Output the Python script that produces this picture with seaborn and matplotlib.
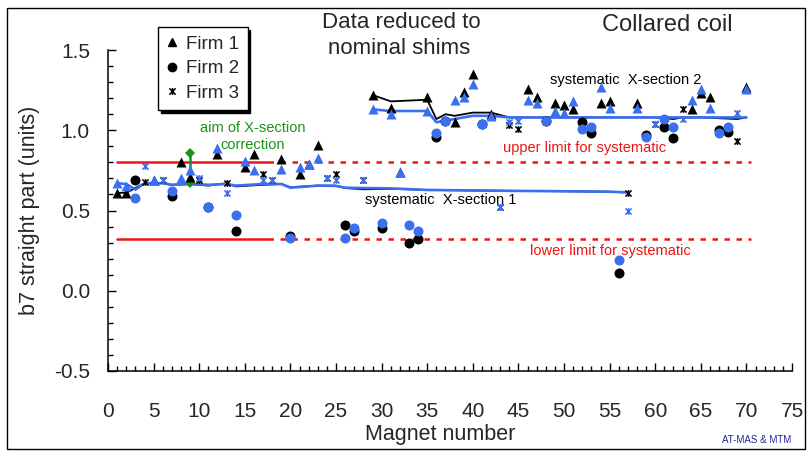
import matplotlib
matplotlib.use("Agg")
import matplotlib.pyplot as plt
from matplotlib.path import Path
from matplotlib.lines import Line2D
from matplotlib.patches import Rectangle
import pandas as pd
import seaborn as sns

# b7 per magnet: as measured (black) and reduced to nominal shims (blue)
firm1_magnets = [1, 2, 5, 8, 9, 12, 15, 16, 19, 21, 22, 23, 29, 31, 32, 35, 38, 39, 40, 42,
                 46, 47, 49, 50, 51, 54, 55, 58, 64, 65, 66, 70]
firm1_measured = [0.61, 0.61, 0.69, 0.80, 0.71, 0.85, 0.77, 0.85, 0.82, 0.73, 0.79, 0.91, 1.22, 1.14,
                  0.74, 1.21, 1.05, 1.24, 1.35, 1.10, 1.26, 1.21, 1.17, 1.16, 1.13, 1.17, 1.18, 1.17,
                  1.13, 1.23, 1.21, 1.27]
firm1_nominal = [0.67, 0.655, 0.69, 0.70, 0.75, 0.89, 0.81, 0.75, 0.76, 0.77, 0.79, 0.83, 1.13, 1.10,
                 0.74, 1.12, 1.19, 1.21, 1.29, 1.09, 1.19, 1.17, 1.12, 1.11, 1.18, 1.27, 1.14, 1.14,
                 1.19, 1.26, 1.14, 1.255]

firm2_magnets = [3, 7, 11, 14, 20, 26, 27, 30, 33, 34, 36, 37, 41, 48, 52, 53, 56, 59, 61, 62, 67, 68]
firm2_measured = [0.69, 0.59, 0.52, 0.37, 0.34, 0.41, 0.37, 0.39, 0.30, 0.32, 0.96, 1.06, 1.04, 1.06,
                  1.05, 0.98, 0.11, 0.97, 1.02, 0.95, 1.00, 0.99]
firm2_nominal = [0.58, 0.62, 0.52, 0.47, 0.33, 0.33, 0.39, 0.42, 0.41, 0.37, 0.98, 1.06, 1.04, 1.06,
                 1.01, 1.02, 0.19, 0.96, 1.07, 1.02, 0.98, 1.02]

firm3_magnets = [4, 6, 10, 13, 17, 18, 24, 25, 28, 43, 44, 45, 57, 60, 63, 69]
firm3_measured = [0.68, 0.69, 0.69, 0.67, 0.73, 0.69, 0.70, 0.73, 0.69, 0.52, 1.03, 1.01, 0.61, 1.04,
                  1.13, 0.93]
firm3_nominal = [0.78, 0.69, 0.70, 0.61, 0.69, 0.69, 0.70, 0.69, 0.69, 0.52, 1.05, 1.06, 0.50, 1.04,
                 1.07, 1.11]

# systematic b7 of the two cross-sections
sys1_magnets = [1, 2, 3, 4, 6, 7, 9, 11, 13, 14, 17, 19, 20, 23, 25, 26, 28, 31, 35, 40, 45, 50, 55, 57]
sys1_measured = [0.61, 0.61, 0.64, 0.67, 0.67, 0.66, 0.665, 0.655, 0.67, 0.65, 0.66, 0.665, 0.645,
                 0.655, 0.655, 0.64, 0.632, 0.635, 0.628, 0.625, 0.622, 0.62, 0.617, 0.612]
sys1_nominal = [0.67, 0.665, 0.63, 0.67, 0.67, 0.66, 0.665, 0.66, 0.665, 0.655, 0.665, 0.665, 0.642,
                0.655, 0.653, 0.642, 0.64, 0.638, 0.628, 0.625, 0.622, 0.62, 0.617, 0.613]

sys2_magnets = [29, 31, 35, 36, 37, 38, 40, 42, 44, 50, 55, 60, 62, 63, 65, 69, 70]
sys2_measured = [1.22, 1.18, 1.19, 1.07, 1.10, 1.09, 1.11, 1.11, 1.08, 1.08, 1.08, 1.08, 1.07, 1.08,
                 1.08, 1.07, 1.08]
sys2_nominal = [1.13, 1.12, 1.12, 1.05, 1.06, 1.07, 1.09, 1.09, 1.08, 1.08, 1.08, 1.08, 1.08, 1.08,
                1.08, 1.08, 1.08]

upper_limit = 0.80
lower_limit = 0.32
limit_start, limit_solid_end, limit_end = 1, 17.5, 70.5
aim_magnet = 9
aim_range = [0.67, 0.86]

x_ticks = [0, 5, 10, 15, 20, 25, 30, 35, 40, 45, 50, 55, 60, 65, 70, 75]
y_ticks = [-0.5, 0.0, 0.5, 1.0, 1.5]
y_tick_labels = ["-0.5", "0.0", "0.5", "1.0", "1.5"]

BLACK = "#000000"
BLUE = "#3a6ff0"
RED = "#f01414"
GREEN = "#169616"

sns.set_style("ticks")
plt.rcParams["font.family"] = ["Liberation Sans", "DejaVu Sans"]

fig = plt.figure(figsize=(8.11, 4.51), dpi=100)
ax = fig.add_axes([0.1332, 0.1774, 0.8434, 0.7117])

# "star" marker: an X with a vertical stroke
star = Path([(-1, -1), (1, 1), (-1, 1), (1, -1), (0, -1.1), (0, 1.1)],
            [Path.MOVETO, Path.LINETO, Path.MOVETO, Path.LINETO, Path.MOVETO, Path.LINETO])

# limits for the systematic b7
for level in (upper_limit, lower_limit):
    sns.lineplot(x=[limit_start, limit_solid_end], y=[level, level], color=RED, lw=1.8,
                 ax=ax, estimator=None, sort=False)
    sns.lineplot(x=[limit_solid_end, limit_end], y=[level, level], color=RED, lw=1.8,
                 dashes=False, ax=ax, estimator=None, sort=False)
    ax.lines[-1].set_dashes((2.2, 2.6))

# systematic lines
for mags, meas, nom in ((sys1_magnets, sys1_measured, sys1_nominal),
                        (sys2_magnets, sys2_measured, sys2_nominal)):
    sns.lineplot(x=mags, y=meas, color=BLACK, lw=1.3, ax=ax, estimator=None, sort=False)
    sns.lineplot(x=mags, y=nom, color=BLUE, lw=1.9, ax=ax, estimator=None, sort=False)

firms = [
    ("Firm 1", "^", firm1_magnets, firm1_measured, firm1_nominal, 52),
    ("Firm 2", "o", firm2_magnets, firm2_measured, firm2_nominal, 52),
    ("Firm 3", star, firm3_magnets, firm3_measured, firm3_nominal, 24),
]
for version, col in (("measured", BLACK), ("nominal", BLUE)):
    for name, mk, mags, meas, nom, size in firms:
        vals = meas if version == "measured" else nom
        df = pd.DataFrame({"magnet": mags, "b7": vals})
        if mk is star:
            sns.scatterplot(data=df, x="magnet", y="b7", marker=mk, s=size, color=col,
                            edgecolor=col, linewidth=1.1, ax=ax, zorder=3)
        else:
            sns.scatterplot(data=df, x="magnet", y="b7", marker=mk, s=size, color=col,
                            linewidth=0, ax=ax, zorder=3)

# aim of the cross-section correction
sns.lineplot(x=[aim_magnet, aim_magnet], y=aim_range, color=GREEN, lw=1.8, marker="D",
             markersize=5, markeredgewidth=0, ax=ax, estimator=None, sort=False)

ax.text(15.9, 0.96, "aim of X-section\ncorrection", color=GREEN, fontsize=10.5,
        ha="center", va="center", linespacing=1.25)
ax.text(48.5, 1.313, "systematic  X-section 2", color=BLACK, fontsize=10.5, ha="left", va="center")
ax.text(28.2, 0.565, "systematic  X-section 1", color=BLACK, fontsize=10.5, ha="left", va="center")
ax.text(43.3, 0.89, "upper limit for systematic", color=RED, fontsize=10.5, ha="left", va="center")
ax.text(46.3, 0.248, "lower limit for systematic", color=RED, fontsize=10.5, ha="left", va="center")

fig.text(401 / 811, 1 - 23 / 451, "Data reduced to", fontsize=16, ha="center", va="center")
fig.text(399 / 811, 1 - 49 / 451, "nominal shims", fontsize=16, ha="center", va="center")
fig.text(667 / 811, 1 - 25 / 451, "Collared coil", fontsize=17, ha="center", va="center")
fig.text(757 / 811, 1 - 440 / 451, "AT-MAS & MTM", fontsize=7, color="#23239a",
         ha="center", va="center")

ax.set_xlim(0, 75)
ax.set_ylim(-0.5, 1.5)
ax.set_xticks(x_ticks)
ax.set_xticklabels([str(t) for t in x_ticks])
ax.set_yticks(y_ticks)
ax.set_yticklabels(y_tick_labels)
ax.set_xticks([t for t in range(0, 76) if t % 5], minor=True)
ax.set_yticks([-0.4, -0.3, -0.2, -0.1, 0.1, 0.2, 0.3, 0.4, 0.6, 0.7, 0.8, 0.9,
               1.1, 1.2, 1.3, 1.4], minor=True)
ax.tick_params(which="both", direction="in", color=BLACK, width=1.0, labelsize=15)
ax.tick_params(which="major", length=6)
ax.tick_params(which="minor", length=3.5)
ax.tick_params(axis="y", which="major", pad=13)
ax.tick_params(axis="x", which="major", pad=22)
for side in ("top", "right"):
    ax.spines[side].set_visible(False)
for side in ("left", "bottom"):
    ax.spines[side].set_linewidth(1.1)
    ax.spines[side].set_color(BLACK)

ax.set_xlabel("Magnet number", fontsize=15.5)
ax.set_ylabel("b7 straight part (units)", fontsize=15.5)
ax.xaxis.set_label_coords(0.485, -0.165)
ax.yaxis.set_label_coords(-0.10, 0.5)

handles = [Line2D([], [], ls="none", marker="^", color=BLACK, markersize=6),
           Line2D([], [], ls="none", marker="o", color=BLACK, markersize=6),
           Line2D([], [], ls="none", marker=star, color=BLACK, markersize=5, markeredgewidth=1.1)]
leg = fig.legend(handles, ["Firm 1", "Firm 2", "Firm 3"], loc="upper left",
                 bbox_to_anchor=(158 / 811, 1 - 27 / 451), bbox_transform=fig.transFigure,
                 fontsize=13.5, frameon=True, fancybox=False, shadow={"color": BLACK, "alpha": 1},
                 borderaxespad=0, handlelength=0.6, handletextpad=0.45, labelspacing=0.4,
                 borderpad=0.45)
leg.get_frame().set_edgecolor(BLACK)
leg.get_frame().set_linewidth(1.0)
leg.get_frame().set_alpha(1)

fig.patches.append(Rectangle((7 / 811, 2 / 451), 798 / 811, 441 / 451, transform=fig.transFigure,
                             fill=False, edgecolor=BLACK, lw=1.0))

fig.savefig("out.png", dpi=100)
